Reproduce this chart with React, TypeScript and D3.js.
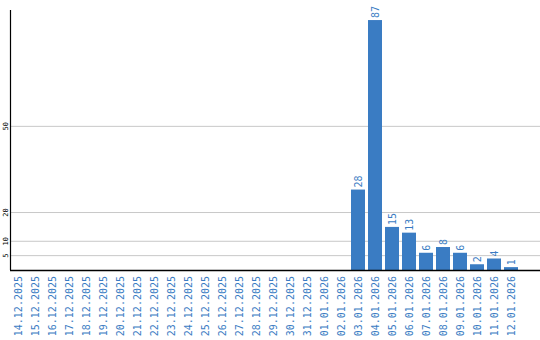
import React from "react";
import * as d3 from "d3";

const dates = [
  "14.12.2025", "15.12.2025", "16.12.2025", "17.12.2025", "18.12.2025", "19.12.2025",
  "20.12.2025", "21.12.2025", "22.12.2025", "23.12.2025", "24.12.2025", "25.12.2025",
  "26.12.2025", "27.12.2025", "28.12.2025", "29.12.2025", "30.12.2025", "31.12.2025",
  "01.01.2026", "02.01.2026", "03.01.2026", "04.01.2026", "05.01.2026", "06.01.2026",
  "07.01.2026", "08.01.2026", "09.01.2026", "10.01.2026", "11.01.2026", "12.01.2026",
];
const counts = [
  0, 0, 0, 0, 0, 0, 0, 0, 0, 0, 0, 0, 0, 0, 0, 0, 0, 0, 0, 0,
  28, 87, 15, 13, 6, 8, 6, 2, 4, 1,
];
const yTicks = [5, 10, 20, 50];

const W = 540;
const H = 340;
const left = 11;
const bottom = 270;
const top = 10;
const blue = "#3a7cc3";
const mono = "'DejaVu Sans Mono', 'Liberation Mono', monospace";

export default function App() {
  const x = d3.scaleBand<string>().domain(dates).range([left, left + 30 * 17]).padding(0);
  const y = d3.scaleLinear().domain([0, 90.5]).range([bottom, top]);
  const bw = x.bandwidth() * (14 / 17);
  return (
    <svg width={W} height={H} style={{ position: "absolute", left: 0, top: 0, background: "#fff" }}>
      {yTicks.map((t) => (
        <g key={t}>
          <line x1={left} x2={W} y1={y(t)} y2={y(t)} stroke="#c8c8c8" strokeWidth={1} />
          <text
            transform={`translate(8,${y(t)}) rotate(-90)`}
            textAnchor="middle"
            fontFamily={mono}
            fontSize={7}
            fill="#000"
          >
            {t}
          </text>
        </g>
      ))}
      {dates.map((d, i) => {
        const v = counts[i];
        const bx = x(d)!;
        const cx = bx + bw / 2;
        return (
          <g key={d}>
            {v > 0 && (
              <>
                <rect x={bx} y={y(v)} width={bw} height={bottom - y(v)} fill={blue} />
                <text
                  transform={`translate(${cx + 3.5},${y(v) - 2}) rotate(-90)`}
                  textAnchor="start"
                  fontFamily={mono}
                  fontSize={10}
                  fill={blue}
                >
                  {v}
                </text>
              </>
            )}
            <text
              transform={`translate(${cx + 3.5},${bottom + 6}) rotate(-90)`}
              textAnchor="end"
              fontFamily={mono}
              fontSize={10}
              fill={blue}
            >
              {d}
            </text>
          </g>
        );
      })}
      <line x1={left - 0.5} x2={left - 0.5} y1={top} y2={bottom} stroke="#000" strokeWidth={1.2} />
      <line x1={left - 1} x2={W} y1={bottom + 0.5} y2={bottom + 0.5} stroke="#000" strokeWidth={1.5} />
    </svg>
  );
}
